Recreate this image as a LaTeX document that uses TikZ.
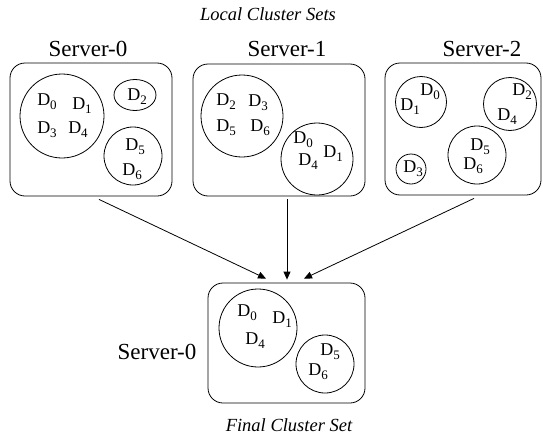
\documentclass[tikz,border=0pt]{standalone}
\usepackage{fontspec}
\setmainfont{Liberation Serif}
\newfontfamily\timesf{Liberation Serif}
\usetikzlibrary{arrows.meta,shapes.geometric}
\newcommand{\Dx}[1]{D\raisebox{-4pt}{\fontsize{13}{13}\selectfont #1}}
\tikzset{
  serverbox/.style={draw, line width=0.8pt, rounded corners=15pt, inner sep=0pt},
  clus/.style={draw, line width=0.8pt, circle, inner sep=0pt},
  dlab/.style={font=\timesf\fontsize{18}{18}\selectfont, inner sep=0pt},
  srvtitle/.style={font=\timesf\fontsize{23}{23}\selectfont, inner sep=0pt},
  captxt/.style={font=\timesf\fontsize{18.5}{18.5}\selectfont\itshape, inner sep=0pt},
  arr/.style={line width=0.8pt, -{Triangle[length=8pt,width=7pt]}}
}
\begin{document}
\begin{tikzpicture}[x=1pt,y=-1pt]
\useasboundingbox (0,0) rectangle (543,439);
% captions
\node[captxt] (lcs) at (268,14) {Local Cluster Sets};
\node[captxt] (fcs) at (289,425) {Final Cluster Set};
% server boxes
\node[serverbox, minimum width=162pt, minimum height=133pt] (s0) at (91,129.5) {};
\node[serverbox, minimum width=172pt, minimum height=132pt] (s1) at (279,130) {};
\node[serverbox, minimum width=156pt, minimum height=132pt] (s2) at (463,129) {};
\node[serverbox, minimum width=157pt, minimum height=120pt] (fin) at (286.5,343) {};
% titles
\node[srvtitle] (t0) at (88,49) {Server-0};
\node[srvtitle] (t1) at (287,49) {Server-1};
\node[srvtitle] (t2) at (482,49) {Server-2};
\node[srvtitle] (tf) at (157,352) {Server-0};
% Server-0 clusters
\node[clus, minimum size=84pt] (c00) at (62,116) {};
\node[draw, line width=0.8pt, ellipse, minimum width=42pt, minimum height=31pt, inner sep=0pt] (c01) at (135,95) {};
\node[clus, minimum size=58pt] (c02) at (133,156) {};
\node[dlab] (a0) at (47,102) {\Dx{0}};
\node[dlab] (a1) at (82,106) {\Dx{1}};
\node[dlab] (a3) at (47,130) {\Dx{3}};
\node[dlab] (a4) at (78,130) {\Dx{4}};
\node[dlab] (a2) at (137,97) {\Dx{2}};
\node[dlab] (a5) at (135,147) {\Dx{5}};
\node[dlab] (a6) at (132,172) {\Dx{6}};
% Server-1 clusters
\node[clus, minimum size=82pt] (c10) at (242,116) {};
\node[clus, minimum size=72pt] (c11) at (317,159) {};
\node[dlab] (b2) at (226,102) {\Dx{2}};
\node[dlab] (b3) at (258,103) {\Dx{3}};
\node[dlab] (b5) at (226,128) {\Dx{5}};
\node[dlab] (b6) at (260,128) {\Dx{6}};
\node[dlab] (b0) at (303,140) {\Dx{0}};
\node[dlab] (b1) at (333,154) {\Dx{1}};
\node[dlab] (b4) at (308,162) {\Dx{4}};
% Server-2 clusters
\node[clus, minimum size=51pt] (c20) at (421,102) {};
\node[clus, minimum size=53pt] (c21) at (510,104) {};
\node[clus, minimum size=58pt] (c22) at (477,155) {};
\node[clus, minimum size=30pt] (c23) at (411,169) {};
\node[dlab] (e0) at (430,92) {\Dx{0}};
\node[dlab] (e1) at (410,107) {\Dx{1}};
\node[dlab] (e2) at (522,92) {\Dx{2}};
\node[dlab] (e4) at (507,117) {\Dx{4}};
\node[dlab] (e5) at (480,147) {\Dx{5}};
\node[dlab] (e6) at (473,166) {\Dx{6}};
\node[dlab] (e3) at (413,169) {\Dx{3}};
% final clusters
\node[clus, minimum size=78pt] (f0) at (258,328) {};
\node[clus, minimum size=58pt] (f1) at (325,364) {};
\node[dlab] (g0) at (247,313) {\Dx{0}};
\node[dlab] (g1) at (282,320) {\Dx{1}};
\node[dlab] (g4) at (255,341) {\Dx{4}};
\node[dlab] (g5) at (330,352) {\Dx{5}};
\node[dlab] (g6) at (318,372) {\Dx{6}};
% arrows
\draw[arr] ([xshift=8pt,yshift=-3pt]s0.south) -- ([xshift=-20.5pt,yshift=4pt]fin.north);
\draw[arr] ([xshift=8pt,yshift=-3pt]s1.south) -- ([xshift=0.5pt,yshift=3pt]fin.north);
\draw[arr] ([xshift=11pt,yshift=-3pt]s2.south) -- ([xshift=17.5pt,yshift=4pt]fin.north);
\end{tikzpicture}
\end{document}
